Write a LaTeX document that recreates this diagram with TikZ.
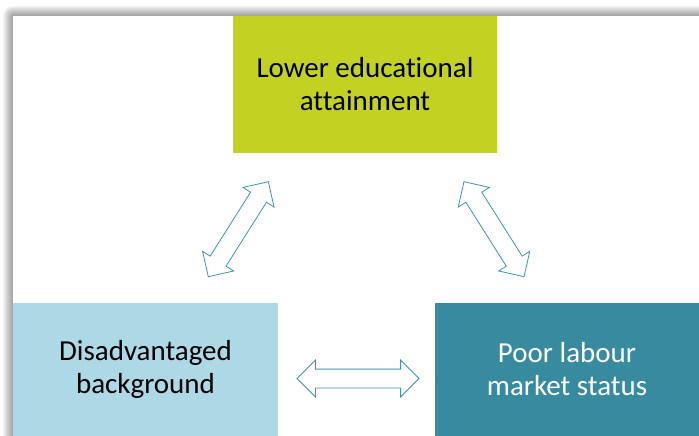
\documentclass[tikz,border=0pt]{standalone}
\usepackage{fontspec}
\setmainfont{Carlito}[Ligatures=CommonOff]
\usetikzlibrary{shapes.arrows}

\definecolor{attaingreen}{RGB}{195,210,34}
\definecolor{bgblue}{RGB}{173,216,230}
\definecolor{labourteal}{RGB}{56,138,158}
\definecolor{arrowteal}{RGB}{64,147,170}

\begin{document}
\begin{tikzpicture}[x=1pt, y=-1pt,
    blockbox/.style={rectangle, inner sep=0pt, align=center, minimum width=264pt,
                     font=\fontsize{29}{33}\selectfont},
    linkarrow/.style={shape=double arrow, draw=arrowteal, line width=0.8pt, fill=white,
                      inner xsep=0pt, inner ysep=9pt, double arrow head extend=9pt}]
    \useasboundingbox (0, 0) rectangle (699, 436);
    \fill [white] (0, 0) rectangle (699, 436);
    % soft shadow round the frame
    \foreach \i in {1,...,10}
        \fill [black, opacity=0.04, rounded corners=\i pt] (13-\i, 16-\i) rectangle (720, 460);
    \fill [white] (13, 16) rectangle (699, 436);

    \node [blockbox, fill=attaingreen, minimum height=137pt] (attain) at (365, 84.5)
        {Lower educational\\attainment};
    \node [blockbox, fill=bgblue, minimum width=265pt, minimum height=133pt] (backgr) at (145.5, 369.5)
        {Disadvantaged\\background};
    \node [blockbox, fill=labourteal, text=white, minimum height=133pt] (labour) at (567, 369.5)
        {Poor labour\\market status};

    \node [linkarrow, minimum height=112.4pt, rotate=57.7] (leftlink) at (238.3, 229.2) {};
    \node [linkarrow, minimum height=112.4pt, rotate=-57.7] (rightlink) at (494, 229.2) {};
    \node [linkarrow, minimum height=122pt] (bottomlink) at (358, 378.5) {};

\end{tikzpicture}
\end{document}
